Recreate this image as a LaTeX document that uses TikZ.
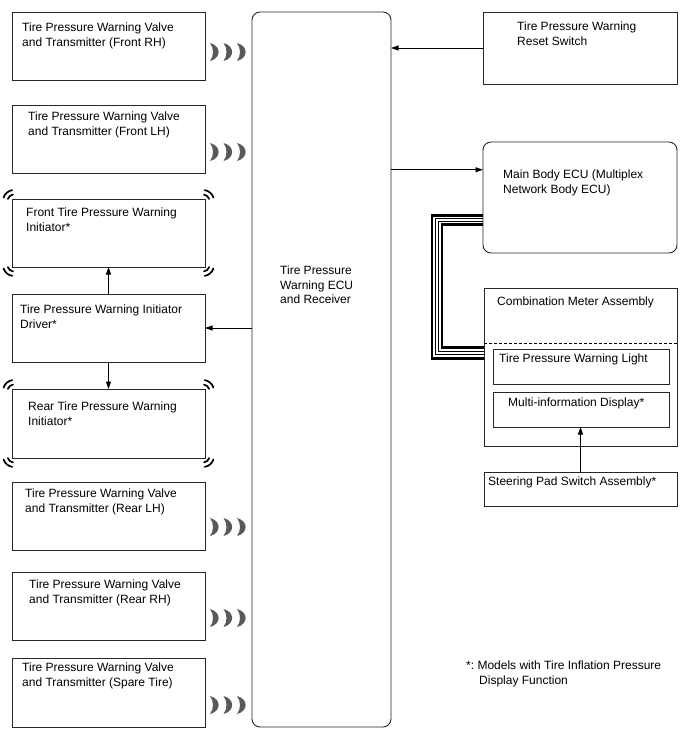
\documentclass[tikz,border=0pt]{standalone}
\usepackage{fontspec}
\setmainfont{Liberation Sans}
\usetikzlibrary{arrows.meta,calc}
\newcommand\tpwwave[2]{\fill[wave] (#1,#2-9) .. controls (#1+11.5,#2-6) and (#1+11.5,#2+6) .. (#1,#2+9) .. controls (#1+4,#2+4) and (#1+4,#2-4) .. (#1,#2-9) -- cycle;}
\newcommand\tpwwaves[1]{\foreach \xx in {210,223.5,237} {\tpwwave{\xx}{#1}}}
\newcommand\tpwbrk[1]{%
  \foreach \rr in {6.5,11} {%
    \draw[brk] ($(#1.north west)+(2,2)$) ++(198:\rr) arc[start angle=198,end angle=261,radius=\rr];
    \draw[brk] ($(#1.north east)+(-2,2)$) ++(279:\rr) arc[start angle=279,end angle=342,radius=\rr];
    \draw[brk] ($(#1.south east)+(-2,-2)$) ++(18:\rr) arc[start angle=18,end angle=81,radius=\rr];
    \draw[brk] ($(#1.south west)+(2,-2)$) ++(99:\rr) arc[start angle=99,end angle=162,radius=\rr];
  }}
\begin{document}
\begin{tikzpicture}[x=1pt,y=-1pt,
  box/.style={draw=black!85, line width=0.9pt, anchor=north west, inner sep=0pt, outer sep=0pt},
  lbox/.style={box, minimum width=193pt},
  txt/.style={anchor=north west, inner sep=0pt, align=left, font=\fontsize{12}{14.5}\selectfont\frenchspacing},
  arr/.style={line width=0.9pt, -{Triangle[length=7.5pt,width=5pt]}},
  wave/.style={fill=black!65, draw=none},
  brk/.style={line width=1.7pt, line cap=round},
  ]
\path[use as bounding box] (0,0) rectangle (688,755);

% left column
\node[lbox, minimum height=68pt] (frh) at (12,12) {};
\node[txt] (frht) at (22,23) {Tire Pressure Warning Valve\\and Transmitter (Front RH)};
\node[lbox, minimum height=68pt] (flh) at (12,105) {};
\node[txt] (flht) at (28,112) {Tire Pressure Warning Valve\\and Transmitter (Front LH)};
\node[lbox, minimum height=68pt] (fini) at (12,199) {};
\node[txt] (finit) at (26,208) {Front Tire Pressure Warning\\Initiator*};
\node[lbox, minimum height=68pt] (drv) at (12,294) {};
\node[txt] (drvt) at (20,305) {Tire Pressure Warning Initiator\\Driver*};
\node[lbox, minimum height=69pt] (rini) at (12,389) {};
\node[txt] (rinit) at (28,402) {Rear Tire Pressure Warning\\Initiator*};
\node[lbox, minimum height=68pt] (rlh) at (12,482) {};
\node[txt] (rlht) at (25,489) {Tire Pressure Warning Valve\\and Transmitter (Rear LH)};
\node[lbox, minimum height=68pt] (rrh) at (12,572) {};
\node[txt] (rrht) at (29,580) {Tire Pressure Warning Valve\\and Transmitter (Rear RH)};
\node[lbox, minimum height=69pt] (spr) at (12,658) {};
\node[txt] (sprt) at (22,663) {Tire Pressure Warning Valve\\and Transmitter (Spare Tire)};

% ECU
\node[box, rounded corners=8pt, minimum width=139pt, minimum height=715pt] (ecu) at (252,12) {};
\node[txt] (ecut) at (280,266) {Tire Pressure\\Warning ECU\\and Receiver};

% right column
\node[box, minimum width=194pt, minimum height=72pt] (rst) at (483,12) {};
\node[txt] (rstt) at (517,22) {Tire Pressure Warning\\Reset Switch};
\node[box, rounded corners=8pt, minimum width=194pt, minimum height=111pt] (mb) at (483,142) {};
\node[txt] (mbt) at (503,170) {Main Body ECU (Multiplex\\Network Body ECU)};
\node[box, minimum width=193pt, minimum height=158pt] (comb) at (484,288) {};
\node[txt] (combt) at (497,297) {Combination Meter Assembly};
\node[box, minimum width=176pt, minimum height=35pt] (lgt) at (493,349) {};
\node[txt] (lgtt) at (499,354) {Tire Pressure Warning Light};
\node[box, minimum width=176pt, minimum height=35pt] (mid) at (493,392) {};
\node[txt] (midt) at (508,398) {Multi-information Display*};
\node[box, minimum width=193pt, minimum height=34pt] (str) at (484,472) {};
\node[txt] (strt) at (488,477) {Steering Pad Switch Assembly*};
\node[txt] (note) at (466,661) {*: Models with Tire Inflation Pressure\\\hspace*{13pt}Display Function};

\draw[line width=0.8pt, dash pattern=on 3pt off 2pt] (comb.west |- 0,343) -- (comb.east |- 0,343);

% arrows
\draw[arr] (rst.west) -- (rst.west -| ecu.east);
\coordinate (mbin) at ($(mb.north west)!0.25!(mb.south west)$);
\draw[arr] (ecu.east |- mbin) -- (mbin);
\draw[arr] (ecu.west |- drv.east) -- (drv.east);
\draw[arr] (drv.north) -- (fini.south);
\draw[arr] (drv.south) -- (rini.north);
\draw[arr] (str.north) -- (str.north |- mid.south);

% bus cable
\draw[line width=2.8pt] (mb.west |- 0,215.3) -- (432,215.3) -- (432,358.5) -- (comb.west |- 0,358.5);
\draw[line width=0.9pt] (mb.west |- 0,218.8) -- (435.8,218.8) -- (435.8,354.3) -- (comb.west |- 0,354.3);
\draw[line width=0.9pt] (mb.west |- 0,221.3) -- (438.3,221.3) -- (438.3,351.8) -- (comb.west |- 0,351.8);
\draw[line width=2.8pt] (mb.west |- 0,224.5) -- (442,224.5) -- (442,347.5) -- (comb.west |- 0,347.5);

% radio waves
\tpwwaves{52}
\tpwwaves{152}
\tpwwaves{527}
\tpwwaves{618}
\tpwwaves{705}

% initiator brackets
\tpwbrk{fini}
\tpwbrk{rini}
\end{tikzpicture}
\end{document}
